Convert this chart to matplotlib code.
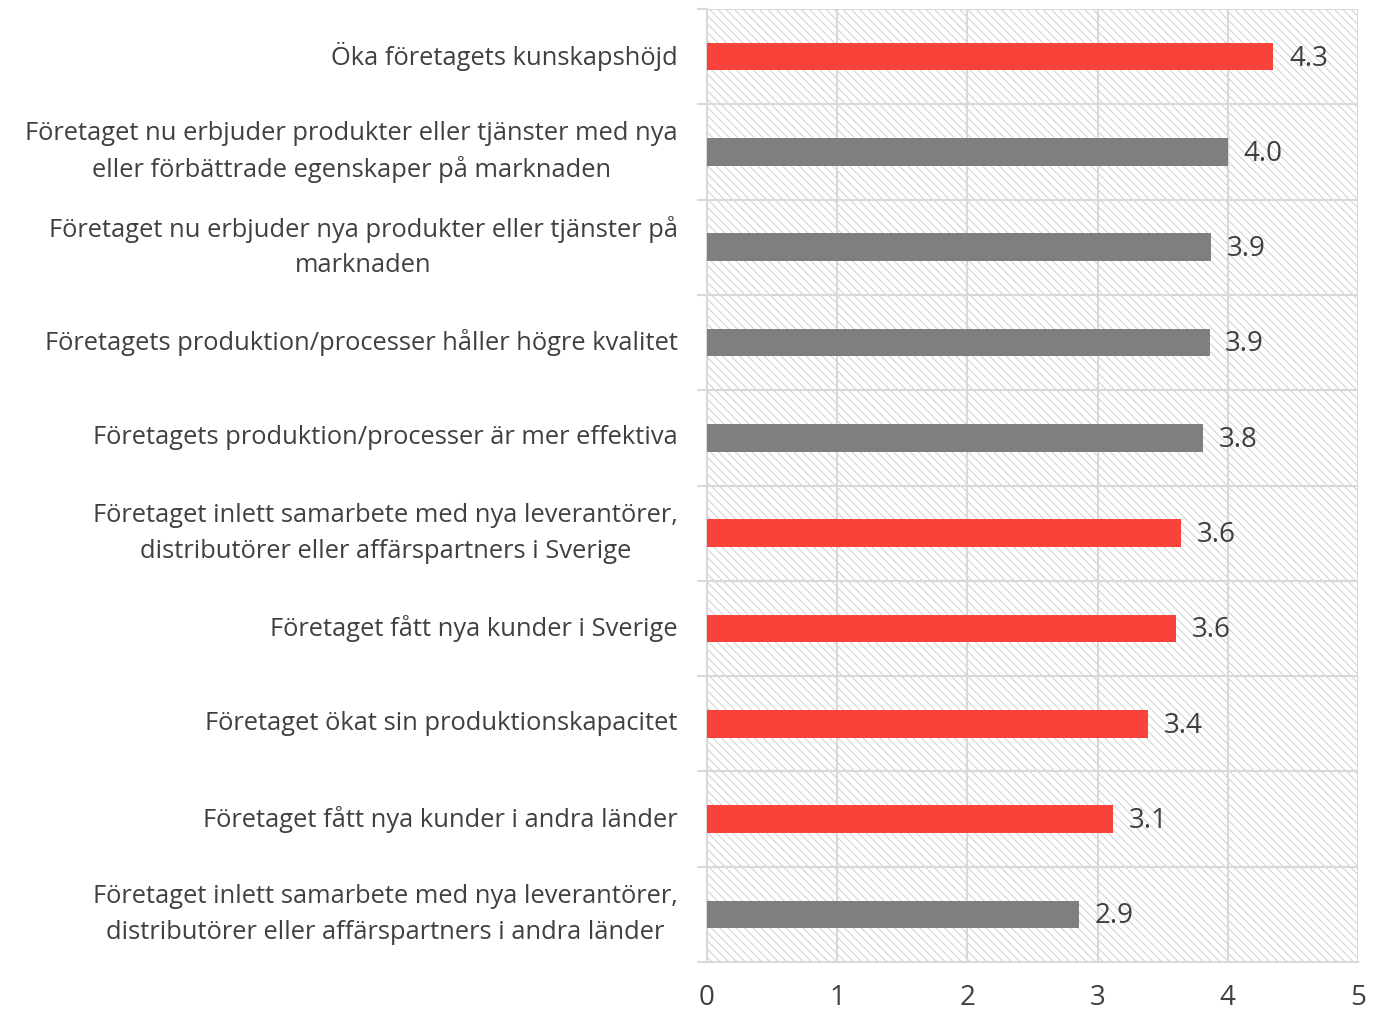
import matplotlib.pyplot as plt
import matplotlib.transforms as mtransforms
import numpy as np

labels = [
    "Öka företagets kunskapshöjd",
    "Företaget nu erbjuder produkter eller tjänster med nya\neller förbättrade egenskaper på marknaden",
    "Företaget nu erbjuder nya produkter eller tjänster på\nmarknaden",
    "Företagets produktion/processer håller högre kvalitet",
    "Företagets produktion/processer är mer effektiva",
    "Företaget inlett samarbete med nya leverantörer,\ndistributörer eller affärspartners i Sverige",
    "Företaget fått nya kunder i Sverige",
    "Företaget ökat sin produktionskapacitet",
    "Företaget fått nya kunder i andra länder",
    "Företaget inlett samarbete med nya leverantörer,\ndistributörer eller affärspartners i andra länder",
]
values = [4.35, 4.0, 3.87, 3.86, 3.81, 3.64, 3.60, 3.39, 3.12, 2.86]
highlight = [True, False, False, False, False, True, True, True, True, False]

RED = "#F9423A"
GRAY = "#7F7F7F"
TXT = "#404040"
LINE = "#D9D9D9"

plt.rcParams["font.family"] = ["Open Sans", "DejaVu Sans"]
plt.rcParams["hatch.color"] = "#CFCFCF"
plt.rcParams["hatch.linewidth"] = 0.7

fig = plt.figure(figsize=(13.83, 10.14), dpi=100)
ax = fig.add_axes([0.5112, 0.0513, 0.4707, 0.9398])

n = len(labels)
y = np.arange(n)
colors = [RED if h else GRAY for h in highlight]

ax.set_xlim(0, 5)
ax.set_ylim(n - 0.5, -0.5)

# hatched background
ax.add_patch(plt.Rectangle((0, -0.5), 5, n, facecolor="white", edgecolor="#CFCFCF",
                           hatch="\\\\\\\\", linewidth=0, zorder=0))

ax.barh(y, values, height=0.29, color=colors, zorder=3)

for yi, v in zip(y, values):
    ax.text(v + 0.12, yi + 0.02, "%.1f" % v, va="center", ha="left", fontsize=20, color=TXT, zorder=4)

# grid
for xv in [1, 2, 3, 4, 5]:
    ax.axvline(xv, color=LINE, lw=1.5, zorder=1)
for b in np.arange(-0.5, n, 1.0):
    ax.axhline(b, color=LINE, lw=1.5, zorder=1)

for s in ["top", "right"]:
    ax.spines[s].set_visible(False)
ax.spines["left"].set_color(LINE)
ax.spines["left"].set_linewidth(1.5)
ax.spines["bottom"].set_color(LINE)
ax.spines["bottom"].set_linewidth(1.5)

ax.set_xticks([0, 1, 2, 3, 4, 5])
ax.set_xticklabels(["0", "1", "2", "3", "4", "5"], fontsize=20, color=TXT)
ax.tick_params(axis="x", length=0, pad=16)

ax.set_yticks([])
ax.set_yticks(np.arange(-0.5, n, 1.0), minor=True)
ax.tick_params(axis="y", which="minor", length=7, color=LINE, width=1.5)

# category labels: block right aligned, lines centred to each other
fig.canvas.draw()
rend = fig.canvas.get_renderer()
axw = ax.get_window_extent(rend).width
trans = mtransforms.blended_transform_factory(ax.transAxes, ax.transData)
right = -29 / axw
for yi, lab in zip(y, labels):
    lines = lab.split("\n")
    ts = [ax.text(0, yi, ln, fontsize=18.4, color=TXT, transform=trans,
                  ha="center", va="center", clip_on=False) for ln in lines]
    W = max(t.get_window_extent(rend).width for t in ts)
    cx = right - W / axw / 2
    for k, t in enumerate(ts):
        off = (k - (len(lines) - 1) / 2) * 0.378
        t.set_position((cx, yi + off))

fig.savefig("out.png", dpi=100)
